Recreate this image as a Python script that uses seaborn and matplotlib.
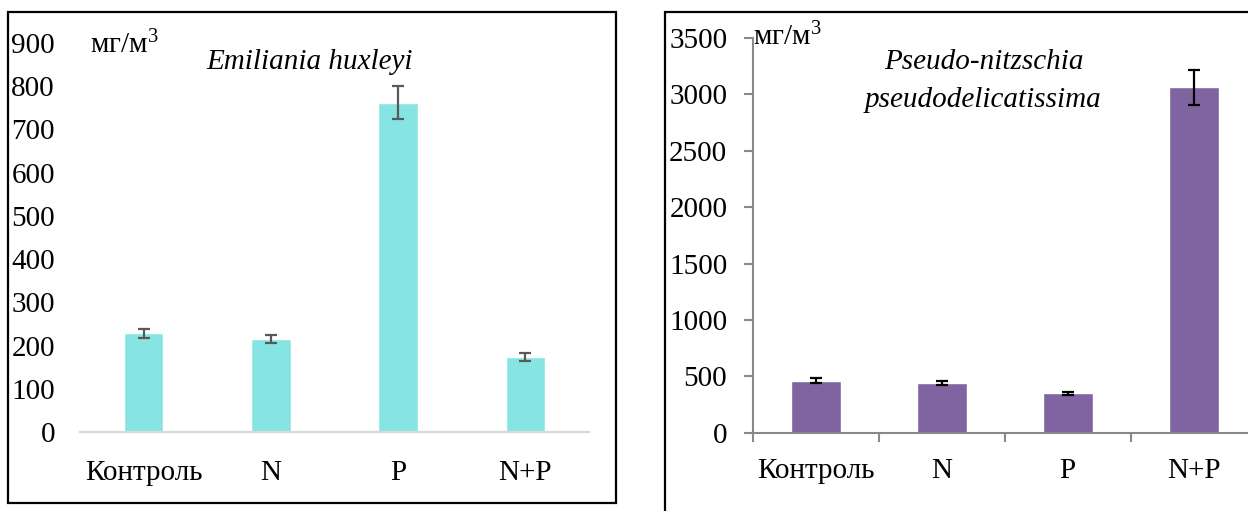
import matplotlib
matplotlib.use("Agg")
import matplotlib.pyplot as plt
from matplotlib.patches import Rectangle
from matplotlib.ticker import FixedLocator
import seaborn as sns
import pandas as pd

# Treatments
categories = ["Контроль", "N", "P", "N+P"]

# Emiliania huxleyi biomass, mg/m3
ehux_mean = [228, 215, 762, 174]
ehux_err = [11, 9, 38, 9]

# Pseudo-nitzschia pseudodelicatissima biomass, mg/m3
pn_mean = [461, 440, 350, 3065]
pn_err = [22, 20, 15, 155]

sns.set_theme(style="white")
plt.rcParams["font.family"] = ["Liberation Serif", "DejaVu Serif"]
plt.rcParams["font.size"] = 21
plt.rcParams["text.color"] = "black"
plt.rcParams["xtick.labelcolor"] = "black"
plt.rcParams["ytick.labelcolor"] = "black"
plt.rcParams["mathtext.fontset"] = "custom"
plt.rcParams["mathtext.rm"] = "Liberation Serif"
plt.rcParams["mathtext.it"] = "Liberation Serif:italic"

UNIT = "мг/м$^{\\mathrm{3}}$"

W, H = 1248, 511
fig = plt.figure(figsize=(W / 100, H / 100), dpi=100)
fig.patch.set_facecolor("white")


def fx(px):
    return px / W


def fy(py):
    return 1 - py / H


# ---- left panel: Emiliania huxleyi ----
axL = fig.add_axes([fx(80), fy(432), fx(589) - fx(80), fy(43) - fy(432)])
dfL = pd.DataFrame({"treatment": categories, "biomass": ehux_mean})
sns.barplot(data=dfL, x="treatment", y="biomass", ax=axL, color="#86E5E3",
            saturation=1, width=0.31, errorbar=None)
axL.errorbar(range(len(categories)), ehux_mean, yerr=ehux_err, fmt="none",
             ecolor="#595959", elinewidth=1.6, capsize=4.3, capthick=1.6)
axL.set_xlim(-0.5, 3.5)
axL.set_ylim(0, 900)
axL.set_yticks(range(0, 901, 100))
axL.set_xlabel("")
axL.set_ylabel("")
for s in ("top", "right", "left"):
    axL.spines[s].set_visible(False)
axL.spines["bottom"].set_color("#D9D9D9")
axL.spines["bottom"].set_linewidth(1.6)
axL.tick_params(axis="y", length=0, pad=18, labelsize=21, labelcolor="black")
axL.tick_params(axis="x", length=0, pad=20, labelsize=21, labelcolor="black")
axL.text(0.02, 0.995, UNIT, transform=axL.transAxes, ha="left", va="center",
         fontsize=21)
axL.text(0.452, 0.95, "Emiliania huxleyi", transform=axL.transAxes,
         ha="center", va="center", fontsize=21, style="italic")
axL.patch.set_alpha(0)

# ---- right panel: Pseudo-nitzschia pseudodelicatissima ----
axR = fig.add_axes([fx(752.7), fy(432.7), fx(1256.7) - fx(752.7),
                    fy(38) - fy(432.7)])
dfR = pd.DataFrame({"treatment": categories, "biomass": pn_mean})
sns.barplot(data=dfR, x="treatment", y="biomass", ax=axR, color="#8064A2",
            saturation=1, width=0.4, errorbar=None)
axR.errorbar(range(len(categories)), pn_mean, yerr=pn_err, fmt="none",
             ecolor="black", elinewidth=1.6, capsize=4.5, capthick=1.6)
axR.set_xlim(-0.5, 3.5)
axR.set_ylim(0, 3500)
axR.set_yticks(range(0, 3501, 500))
axR.set_xlabel("")
axR.set_ylabel("")
for s in ("top", "right"):
    axR.spines[s].set_visible(False)
for s in ("left", "bottom"):
    axR.spines[s].set_color("#898989")
    axR.spines[s].set_linewidth(1.5)
axR.xaxis.set_minor_locator(FixedLocator([-0.5, 0.5, 1.5, 2.5, 3.5]))
axR.tick_params(axis="x", which="major", length=0, pad=18, labelsize=21,
                labelcolor="black")
axR.tick_params(axis="x", which="minor", bottom=True, direction="out",
                length=6.3, width=1.5, color="#898989")
axR.tick_params(axis="y", left=True, direction="out", length=6.3, width=1.5,
                color="#898989", pad=12, labelsize=21, labelcolor="black")
axR.text(0.0, 1.003, UNIT, transform=axR.transAxes, ha="left", va="center",
         fontsize=21)
axR.text(0.458, 0.94, "Pseudo-nitzschia", transform=axR.transAxes,
         ha="center", va="center", fontsize=21, style="italic")
axR.text(0.458, 0.843, "pseudodelicatissima", transform=axR.transAxes,
         ha="center", va="center", fontsize=21, style="italic")
axR.patch.set_alpha(0)

# panel frames
fig.patches.append(Rectangle((fx(8), fy(503)), fx(616) - fx(8), fy(12) - fy(503),
                             transform=fig.transFigure, fill=False,
                             edgecolor="black", linewidth=1.6))
fig.patches.append(Rectangle((fx(665), fy(540)), fx(1300) - fx(665),
                             fy(11.5) - fy(540), transform=fig.transFigure,
                             fill=False, edgecolor="black", linewidth=1.6))

fig.savefig("out.png", dpi=100)
